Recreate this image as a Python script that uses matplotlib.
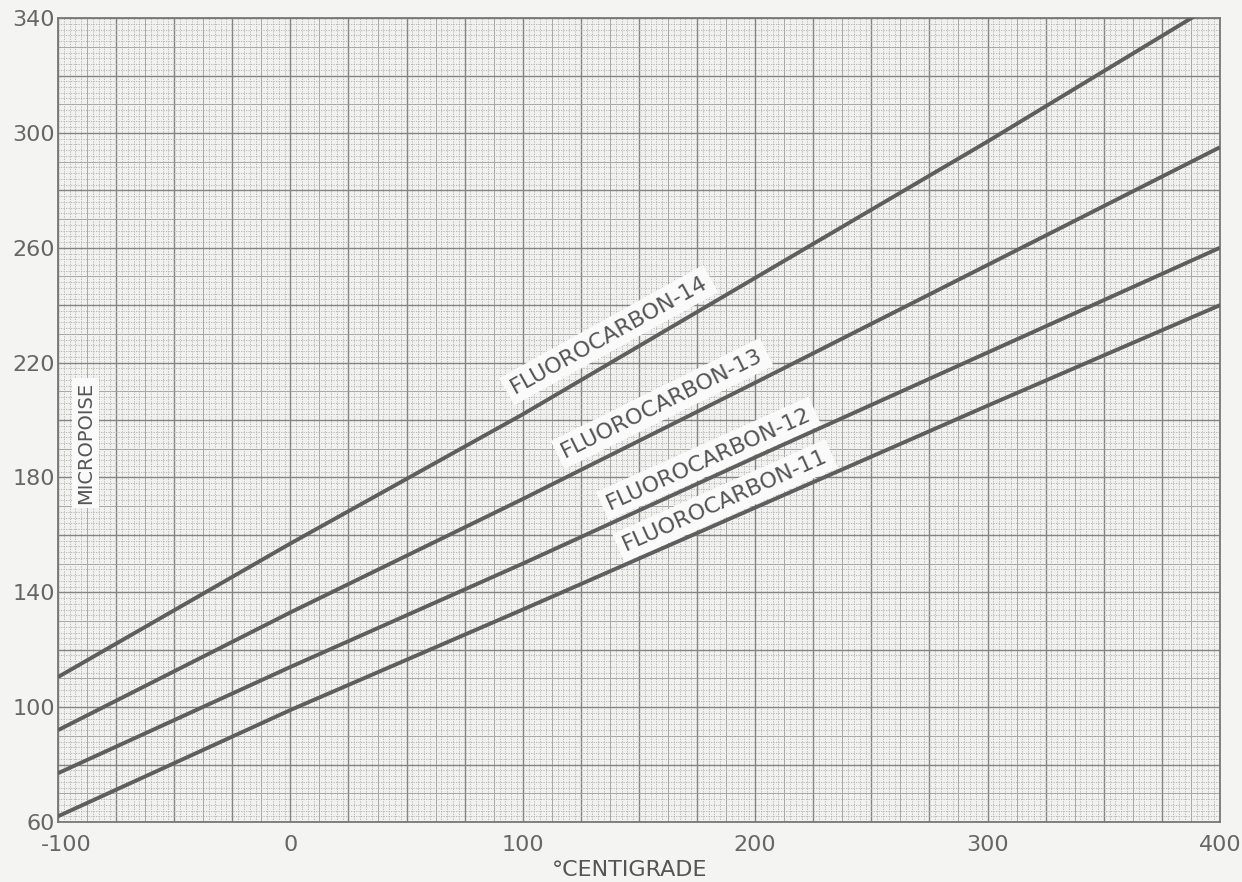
import numpy as np
import matplotlib.pyplot as plt
import matplotlib.transforms as mtransforms
from matplotlib.ticker import MultipleLocator, FuncFormatter

# Temperature (deg C) and viscosity (micropoise)
temps = [-100, 0, 100, 200, 300, 400]
fc14 = [110.5, 157, 202, 249.5, 297, 346]
fc13 = [92, 133, 172.5, 213, 254, 295]
fc12 = [77, 114, 150, 187, 223.5, 260]
fc11 = [62, 99, 134, 169.5, 205, 240]

curves = [fc14, fc13, fc12, fc11]
names = ['FLUOROCARBON-14', 'FLUOROCARBON-13', 'FLUOROCARBON-12', 'FLUOROCARBON-11']
# label anchor: temperature, height above its curve, rotation
label_t = [137, 160, 180, 187]
label_up = [10, 9, 7, 7]
label_rot = [29, 26.3, 24.2, 24]

paper = '#f4f4f2'
ink = '#5e5e5e'

fig = plt.figure(figsize=(12.42, 8.82), dpi=100, facecolor=paper)
ax = fig.add_axes([0.0467, 0.068, 0.9355, 0.9115])
ax.set_facecolor('#f1f1ef')

ax.set_xlim(-100, 400)
ax.set_ylim(60, 340)

# graph paper grid
ax.xaxis.set_major_locator(MultipleLocator(25))
ax.xaxis.set_minor_locator(MultipleLocator(2.5))
ax.yaxis.set_major_locator(MultipleLocator(20))
ax.yaxis.set_minor_locator(MultipleLocator(2))
ax.xaxis.set_major_formatter(FuncFormatter(lambda v, p: f'{v:.0f}' if v % 100 == 0 else ''))
ax.yaxis.set_major_formatter(FuncFormatter(lambda v, p: f'{v:.0f}' if (v - 60) % 40 == 0 else ''))
ax.grid(which='major', color='#848484', lw=1.0)
ax.grid(which='minor', color='#b0b0b0', lw=0.6, ls=(0, (1.5, 1.5)))
for v in np.arange(-87.5, 400, 25):
    ax.axvline(v, color='#a2a2a2', lw=0.7, zorder=0.5)
for v in np.arange(70, 340, 20):
    ax.axhline(v, color='#a2a2a2', lw=0.7, zorder=0.5)
ax.set_axisbelow(True)

ax.tick_params(which='both', length=0, labelsize=16, colors='#666666')
ax.tick_params(axis='x', pad=9)
ax.tick_params(axis='y', pad=2)
for s in ax.spines.values():
    s.set_color('#777777')
    s.set_linewidth(1.3)

fig.canvas.draw()
for lab in ax.get_xticklabels():
    if lab.get_text() in ('-100', '−100'):
        lab.set_transform(lab.get_transform() + mtransforms.ScaledTranslation(0.08, 0, fig.dpi_scale_trans))

for vals in curves:
    ax.plot(temps, vals, color=ink, lw=2.8, solid_capstyle='butt', zorder=5)

for name, vals, t, up, rot in zip(names, curves, label_t, label_up, label_rot):
    y = np.interp(t, temps, vals) + up
    ax.text(t, y, name, rotation=rot, rotation_mode='anchor', ha='center', va='center',
            fontsize=16, color='#555555', zorder=4,
            bbox=dict(facecolor='#fafafa', edgecolor='none', pad=4))

ax.text(-88, 192, 'MICROPOISE', rotation=90, ha='center', va='center', fontsize=14,
        color='#555555', zorder=4, bbox=dict(facecolor='#fafafa', edgecolor='none', pad=3))
fig.text(0.507, 0.0136, '°CENTIGRADE', ha='center', va='center', fontsize=16, color='#555555')

fig.savefig('out.png', dpi=100, facecolor=paper)
